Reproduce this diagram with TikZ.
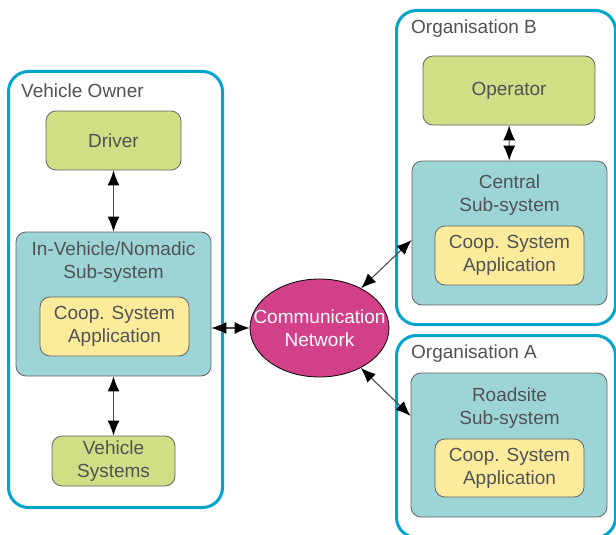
\documentclass[tikz,border=0pt]{standalone}
\usepackage{fontspec}
\setmainfont{Liberation Sans}
\usetikzlibrary{arrows.meta,shapes.geometric}
\definecolor{grpblue}{RGB}{0,164,204}
\definecolor{actgreen}{RGB}{206,223,134}
\definecolor{subteal}{RGB}{157,212,214}
\definecolor{appyellow}{RGB}{252,235,155}
\definecolor{netpink}{RGB}{210,64,138}
\definecolor{edgegray}{RGB}{100,100,100}
\definecolor{txtgray}{RGB}{80,82,85}
\tikzset{
  grp/.style={draw=grpblue,line width=3pt,rounded corners=20pt,anchor=north west,inner sep=0pt},
  grplabel/.style={anchor=west,text=txtgray,inner sep=0pt},
  box/.style={draw=edgegray,line width=.8pt,rounded corners=10pt,text=txtgray,align=center,inner sep=0pt},
  actor/.style={box,fill=actgreen},
  subsys/.style={box,fill=subteal,minimum width=195pt,minimum height=144pt},
  app/.style={box,fill=appyellow,minimum width=149pt,minimum height=59pt},
  tip/.style={Latex[length=15pt,width=12pt,black]},
  link/.style={{Latex[length=15pt,width=12pt,black]}-{Latex[length=15pt,width=12pt,black]},line width=1.1pt,draw=black!70}
}
\begin{document}
\begin{tikzpicture}[x=1pt,y=-1pt,font=\fontsize{19}{23}\selectfont,line join=round]
  \useasboundingbox (0,0) rectangle (616,535);
  % groups
  \node[grp,minimum width=214pt,minimum height=436pt] (owner) at (7,70) {};
  \node[grp,minimum width=219pt,minimum height=314pt] (orgB) at (395,9) {};
  \node[grp,minimum width=219pt,minimum height=202pt] (orgA) at (395,334) {};
  \node[grplabel] (ownerlbl) at (21,91) {Vehicle Owner};
  \node[grplabel] (orgBlbl) at (411,29) {Organisation B};
  \node[grplabel] (orgAlbl) at (411,354) {Organisation A};
  % vehicle owner
  \node[actor,minimum width=135pt,minimum height=59pt] (driver) at (113.5,140.5) {Driver};
  \node[subsys] (invehicle) at (113.5,304) {};
  \node[text=txtgray,align=center,inner sep=0pt] (invehiclelbl) at (113.5,262) {In-Vehicle/Nomadic\\Sub-system};
  \node[app] (vapp) at (114.5,326.5) {Coop. System\\Application};
  \node[actor,minimum width=123pt,minimum height=50pt] (vsys) at (113.5,461) {Vehicle\\Systems};
  % network
  \node[ellipse,draw=black,line width=.8pt,fill=netpink,text=white,align=center,
        minimum width=139pt,minimum height=98pt,inner xsep=-17pt,inner ysep=0pt] (net) at (319.5,328) {Communication\\Network};
  % organisation B
  \node[actor,minimum width=172pt,minimum height=69pt] (operator) at (509,90.5) {Operator};
  \node[subsys] (central) at (509.5,233) {};
  \node[text=txtgray,align=center,inner sep=0pt] (centrallbl) at (509.5,195) {Central\\Sub-system};
  \node[app] (capp) at (509.5,255.5) {Coop. System\\Application};
  % organisation A
  \node[subsys,minimum width=196pt] (roadsite) at (509,445) {};
  \node[text=txtgray,align=center,inner sep=0pt] (roadsitelbl) at (509.5,408) {Roadsite\\Sub-system};
  \node[app,minimum height=58pt] (rapp) at (509.5,468) {Coop. System\\Application};
  % links
  \draw[link] (driver) -- (invehicle);
  \draw[link] (invehicle) -- (vsys);
  \draw[link] (operator) -- (central);
  \draw[link] (invehicle.east |- net.west) -- (net.west);
  \draw[link] (net) -- ([yshift=-7pt]central.west);
  \draw[link] (net) -- ([yshift=29pt]roadsite.west);
\end{tikzpicture}
\end{document}
